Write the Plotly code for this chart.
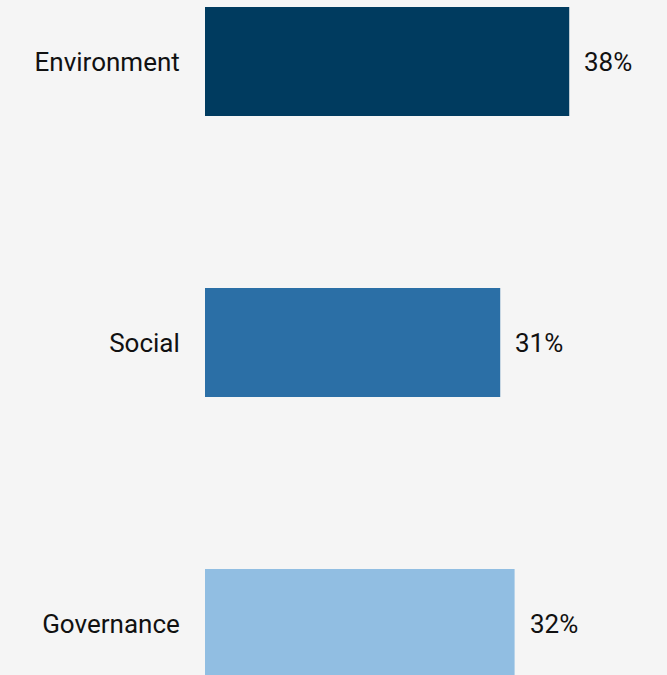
import plotly.graph_objects as go

categories = ["Environment", "Social", "Governance"]
values = [38, 30.8, 32.3]
labels = ["38%", "31%", "32%"]
colors = ["#003B5F", "#2B6FA6", "#91BEE2"]

BG = "#F5F5F5"
FONT = "Roboto"
FS = 26

fig = go.Figure()
fig.add_trace(go.Bar(
    x=values,
    y=categories,
    orientation="h",
    marker=dict(color=colors, line=dict(width=0)),
    width=0.388,
    hoverinfo="skip",
))

for cat, v, lab in zip(categories, values, labels):
    fig.add_annotation(
        x=v, y=cat, xref="x", yref="y",
        text=lab, showarrow=False,
        xanchor="left", xshift=13,
        font=dict(family=FONT, size=FS, color="#111111"),
    )

fig.update_layout(
    width=667, height=675,
    paper_bgcolor=BG, plot_bgcolor=BG,
    margin=dict(l=205, r=0, t=0, b=0),
    showlegend=False,
    font=dict(family=FONT, size=FS, color="#111111"),
)
fig.update_xaxes(range=[0, 48.2], visible=False, fixedrange=True)
fig.update_yaxes(
    type="category",
    categoryorder="array", categoryarray=categories,
    range=[2.183, -0.219],
    showgrid=False, zeroline=False, showline=False,
    ticks="outside", ticklen=19, tickcolor=BG,
    tickfont=dict(family=FONT, size=FS, color="#111111"),
    fixedrange=True,
)

fig.write_html(
    "out.html",
    config={"displayModeBar": False},
    post_script="document.body.style.margin='0';document.body.style.background='#F5F5F5';",
)
